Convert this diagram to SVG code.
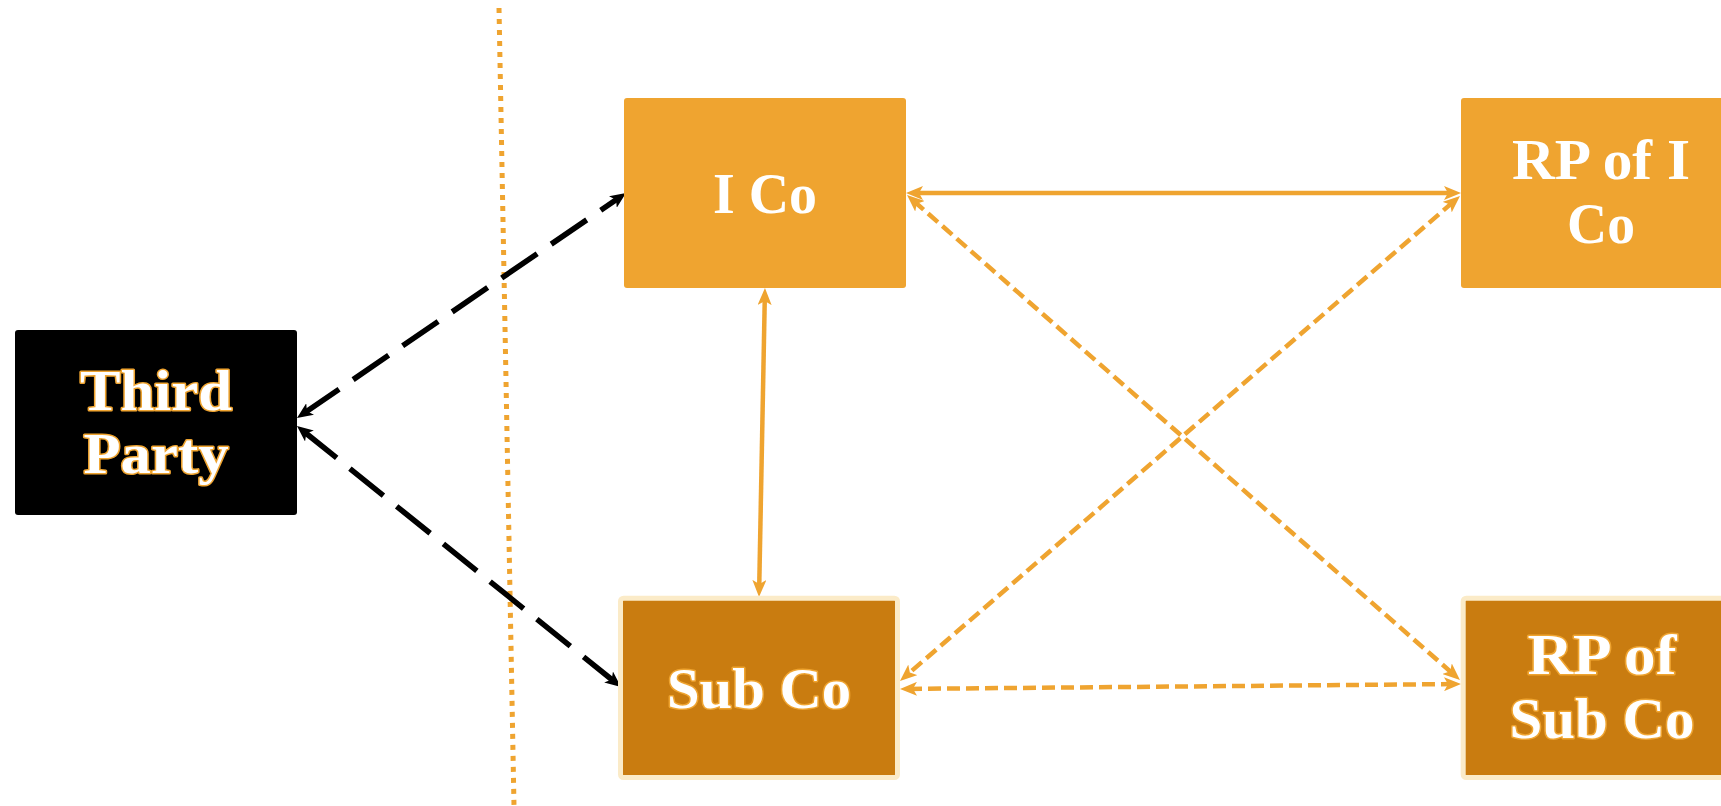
<svg xmlns="http://www.w3.org/2000/svg" width="1721" height="806" viewBox="0 0 1721 806">
  <defs>
    <style>
      .lbl { font-family: "Liberation Serif", "Times New Roman", serif; font-weight: bold; font-size: 57px; text-anchor: middle; fill: #ffffff; }
      .outlined { stroke: #EFA430; stroke-width: 3; paint-order: stroke; stroke-linejoin: round; }
      .light { fill: #EFA430; }
      .dark { fill: #C97C10; stroke: #FBEBC8; stroke-width: 5; }
      .link-black { fill: none; stroke: #000000; stroke-width: 5.5; stroke-dasharray: 43 17; marker-start: url(#arrowBlack); marker-end: url(#arrowBlack); }
      .link-orange { fill: none; stroke: #EFA430; stroke-width: 4.5; marker-start: url(#arrowOrange); marker-end: url(#arrowOrange); }
      .dashed { stroke-dasharray: 13 6; }
    </style>
    <marker id="arrowBlack" viewBox="0 0 16 14" markerUnits="userSpaceOnUse" markerWidth="16" markerHeight="14" refX="8" refY="7" orient="auto-start-reverse">
      <path d="M0,0 L16,7 L0,14 L4,7 z" fill="#000000"/>
    </marker>
    <marker id="arrowOrange" viewBox="0 0 17 14" markerUnits="userSpaceOnUse" markerWidth="17" markerHeight="14" refX="8" refY="7" orient="auto-start-reverse">
      <path d="M0,0 L17,7 L0,14 L4,7 z" fill="#EFA430"/>
    </marker>
  </defs>

  <rect width="1721" height="806" fill="#ffffff"/>

  <!-- boundary line -->
  <line x1="499" y1="8" x2="514" y2="806" stroke="#EFA430" stroke-width="5" stroke-dasharray="5 6"/>

  <g id="connectors">
    <line class="link-black" x1="303.6" y1="413.5" x2="619.4" y2="197.5"/>
    <line class="link-black" x1="303.2" y1="431.0" x2="614.8" y2="682.0"/>
    <line class="link-orange" x1="915" y1="193" x2="1452" y2="193"/>
    <line class="link-orange" x1="764.8" y1="297" x2="759.2" y2="588"/>
    <line class="link-orange dashed" x1="913.8" y1="201.0" x2="1453.2" y2="674.0"/>
    <line class="link-orange dashed" x1="1453.2" y1="201.9" x2="906.8" y2="675.1"/>
    <line class="link-orange dashed" x1="909" y1="688.9" x2="1452" y2="684.1"/>
  </g>

  <g id="third-party">
    <rect x="15" y="330" width="282" height="185" rx="3" fill="#000000"/>
    <text class="lbl outlined" x="156" y="410" textLength="152" lengthAdjust="spacingAndGlyphs">Third</text>
    <text class="lbl outlined" x="156" y="473" textLength="145" lengthAdjust="spacingAndGlyphs">Party</text>
  </g>

  <g id="i-co">
    <rect class="light" x="624" y="98" width="282" height="190" rx="3"/>
    <text class="lbl" x="765" y="213" textLength="104" lengthAdjust="spacingAndGlyphs">I Co</text>
  </g>

  <g id="rp-of-i-co">
    <rect class="light" x="1461" y="98" width="282" height="190" rx="3"/>
    <text class="lbl" x="1601" y="179" textLength="178" lengthAdjust="spacingAndGlyphs">RP of I</text>
    <text class="lbl" x="1601" y="243" textLength="68" lengthAdjust="spacingAndGlyphs">Co</text>
  </g>

  <g id="sub-co">
    <rect class="dark" x="620.5" y="598.2" width="277" height="179.3" rx="3"/>
    <text class="lbl outlined" x="759" y="708" textLength="184" lengthAdjust="spacingAndGlyphs">Sub Co</text>
  </g>

  <g id="rp-of-sub-co">
    <rect class="dark" x="1463.2" y="598.2" width="282" height="179.3" rx="3"/>
    <text class="lbl outlined" x="1602" y="674" textLength="149" lengthAdjust="spacingAndGlyphs">RP of</text>
    <text class="lbl outlined" x="1602" y="738" textLength="185" lengthAdjust="spacingAndGlyphs">Sub Co</text>
  </g>
</svg>
